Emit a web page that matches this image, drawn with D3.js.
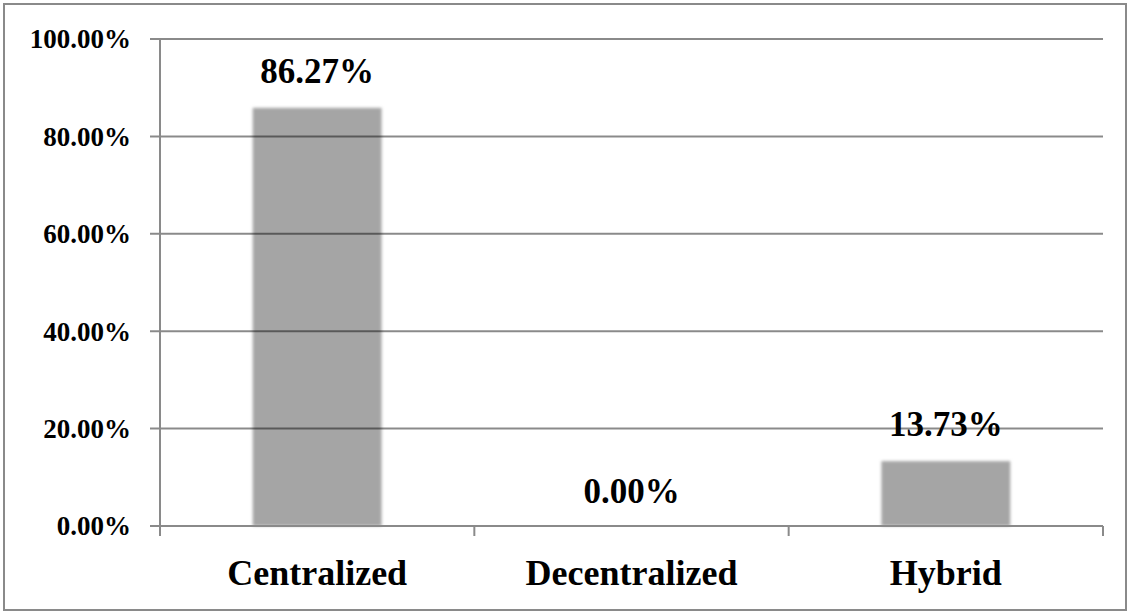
<!DOCTYPE html>
<html>
<head>
<meta charset="utf-8">
<script src="https://cdn.jsdelivr.net/npm/d3@7"></script>
<style>
  body { margin: 0; background: #fff; }
  text { font-family: "Liberation Serif", "Times New Roman", serif; font-weight: bold; fill: #000; }
</style>
</head>
<body>
<svg id="chart" width="1130" height="613"></svg>
<script>
var categories = ["Centralized", "Decentralized", "Hybrid"];
var values = [86.27, 0.00, 13.73];
var yTicks = [0, 20, 40, 60, 80, 100];

var svg = d3.select("#chart"),
    margin = {top: 39, right: 27, bottom: 87, left: 160},
    width = +svg.attr("width") - margin.left - margin.right,
    height = +svg.attr("height") - margin.top - margin.bottom;

// outer frame
svg.append("rect")
    .attr("x", 4).attr("y", 4)
    .attr("width", 1122).attr("height", 606)
    .attr("fill", "none")
    .attr("stroke", "#8a8a8a")
    .attr("stroke-width", 2);

var defs = svg.append("defs");
defs.append("filter")
    .attr("id", "soft")
    .attr("x", "-10%").attr("y", "-10%")
    .attr("width", "120%").attr("height", "120%")
  .append("feGaussianBlur")
    .attr("stdDeviation", 1.6);

var g = svg.append("g").attr("transform", "translate(" + margin.left + "," + margin.top + ")");

var x = d3.scaleBand()
    .domain(categories)
    .range([0, width]);

var y = d3.scaleLinear()
    .domain([0, 100])
    .range([height, 0]);

var barW = x.bandwidth() * 0.41;

// bars
g.append("g")
  .selectAll("rect")
  .data(values)
  .enter().append("rect")
    .attr("x", function(d, i) { return x(categories[i]) + (x.bandwidth() - barW) / 2; })
    .attr("y", function(d) { return y(d) + 2; })
    .attr("width", barW)
    .attr("height", function(d) { return Math.max(0, height - y(d) - 2); })
    .attr("fill", "#a5a5a5")
    .attr("filter", "url(#soft)");

// gridlines (drawn over the bars, slightly see-through)
g.append("g")
  .selectAll("line")
  .data(yTicks)
  .enter().append("line")
    .attr("x1", -10)
    .attr("x2", width)
    .attr("y1", function(d) { return y(d); })
    .attr("y2", function(d) { return y(d); })
    .attr("stroke", "#000")
    .attr("stroke-opacity", 0.46)
    .attr("stroke-width", 2);

// y tick labels
g.append("g")
  .selectAll("text")
  .data(yTicks)
  .enter().append("text")
    .attr("x", -29)
    .attr("y", function(d) { return y(d); })
    .attr("dy", "0.35em")
    .attr("text-anchor", "end")
    .attr("font-size", 27)
    .text(function(d) { return d.toFixed(2) + "%"; });

// value labels
g.append("g")
  .selectAll("text")
  .data(values)
  .enter().append("text")
    .attr("x", function(d, i) { return x(categories[i]) + x.bandwidth() / 2; })
    .attr("y", function(d) { return y(d) - 23; })
    .attr("text-anchor", "middle")
    .attr("font-size", 35)
    .text(function(d) { return d.toFixed(2) + "%"; });

// y axis line
g.append("line")
    .attr("x1", 0).attr("x2", 0)
    .attr("y1", 0).attr("y2", height)
    .attr("stroke", "#8a8a8a")
    .attr("stroke-width", 2);

// x axis line + ticks at band edges
g.append("line")
    .attr("x1", 0).attr("x2", width)
    .attr("y1", height).attr("y2", height)
    .attr("stroke", "#8a8a8a")
    .attr("stroke-width", 2);

var edges = categories.map(function(c) { return x(c); }).concat([width]);
g.append("g")
  .selectAll("line")
  .data(edges)
  .enter().append("line")
    .attr("x1", function(d) { return d; })
    .attr("x2", function(d) { return d; })
    .attr("y1", height)
    .attr("y2", height + 10)
    .attr("stroke", "#8a8a8a")
    .attr("stroke-width", 2);

// category labels
g.append("g")
  .selectAll("text")
  .data(categories)
  .enter().append("text")
    .attr("x", function(d) { return x(d) + x.bandwidth() / 2; })
    .attr("y", height + 59)
    .attr("text-anchor", "middle")
    .attr("font-size", 36)
    .text(function(d) { return d; });
</script>
</body>
</html>
